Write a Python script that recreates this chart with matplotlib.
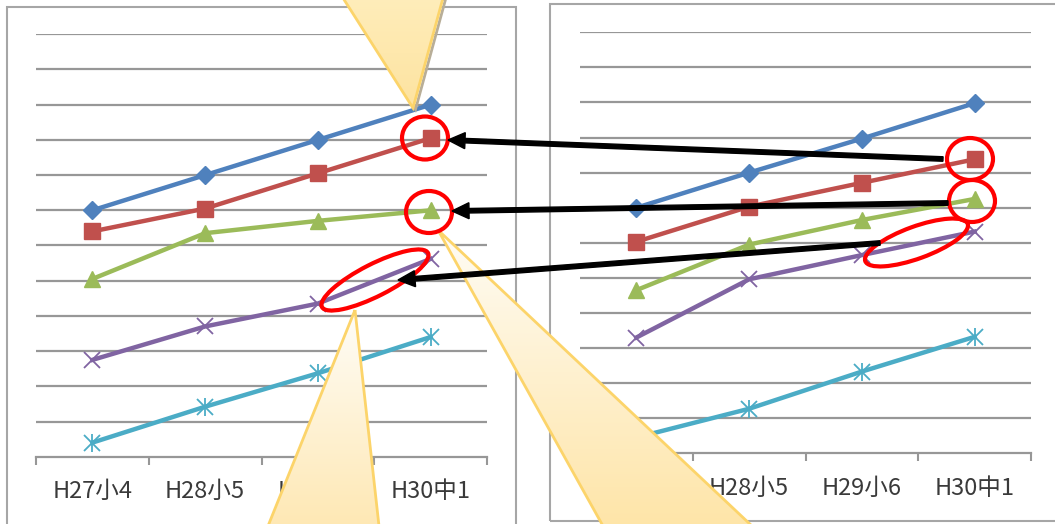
import numpy as np
import matplotlib.pyplot as plt
from matplotlib.patches import Polygon, Ellipse, Rectangle, FancyArrow
from matplotlib.colors import LinearSegmentedColormap

plt.rcParams['font.family'] = ['Noto Sans CJK JP', 'DejaVu Sans']

# grade labels
categories = ['H27小4', 'H28小5', 'H29小6', 'H30中1']

# left chart: five series
left_blue = [7.0, 8.0, 9.0, 10.0]
left_red = [6.4, 7.05, 8.05, 9.05]
left_green = [5.05, 6.35, 6.7, 7.0]
left_purple = [2.75, 3.7, 4.35, 5.62]
left_cyan = [0.4, 1.42, 2.37, 3.4]

# right chart: five series
right_blue = [7.0, 8.0, 8.97, 9.98]
right_red = [6.03, 7.03, 7.71, 8.38]
right_green = [4.65, 5.95, 6.65, 7.25]
right_purple = [3.3, 4.96, 5.65, 6.32]
right_cyan = [0.45, 1.27, 2.33, 3.32]

W, H = 1055, 524
fig = plt.figure(figsize=(W / 100, H / 100), dpi=100)

colors = ['#4F81BD', '#C0504D', '#9BBB59', '#8064A2', '#4BACC6']


def px_axes(x0, x1, ybot, ytop):
    return fig.add_axes([x0 / W, (H - ybot) / H, (x1 - x0) / W, (ybot - ytop) / H])


def draw_chart(ax, series):
    xs = np.arange(1, 5)
    ax.set_xlim(0.5, 4.5)
    ax.set_ylim(0, 12)
    for y in range(1, 13):
        ax.axhline(y, color='#979797', lw=1.6, zorder=1)
    blue, red, green, purple, cyan = series
    lw = 3.2
    ax.plot(xs, blue, color=colors[0], lw=lw, marker='D', ms=9, zorder=3)
    ax.plot(xs, red, color=colors[1], lw=lw, marker='s', ms=11, zorder=3)
    ax.plot(xs, green, color=colors[2], lw=lw, marker='^', ms=11, zorder=3)
    ax.plot(xs, purple, color=colors[3], lw=lw, marker='x', ms=11, mew=1.3, zorder=3)
    ax.plot(xs, cyan, color=colors[4], lw=lw, marker='x', ms=11, mew=1.3, zorder=3)
    ax.plot(xs, cyan, ls='none', color=colors[4], marker='|', ms=13, mew=1.3, zorder=3)
    for s in ['left', 'right', 'top']:
        ax.spines[s].set_visible(False)
    ax.spines['bottom'].set_color('#979797')
    ax.spines['bottom'].set_linewidth(1.6)
    ax.set_yticks([])
    ax.set_xticks(xs)
    ax.set_xticklabels(categories, fontsize=17, color='#3A3A3A')
    ax.tick_params(axis='x', which='major', length=0, pad=17)
    ax.set_xticks([0.5, 1.5, 2.5, 3.5, 4.5], minor=True)
    ax.tick_params(axis='x', which='minor', length=5.5, width=1.5, color='#979797')
    ax.patch.set_alpha(0)


ax_left = px_axes(36, 487, 456.7, 34.3)
draw_chart(ax_left, [left_blue, left_red, left_green, left_purple, left_cyan])

ax_right = px_axes(580, 1031, 453.3, 32.3)
draw_chart(ax_right, [right_blue, right_red, right_green, right_purple, right_cyan])

# chart frames
fig.patches.append(Rectangle((7 / W, -0.05), (516 - 7) / W, 1.05 - 7 / H,
                             transform=fig.transFigure, fill=False,
                             ec='#A6A6A6', lw=1.5, zorder=0))
fig.patches.append(Rectangle((550 / W, (H - 521) / H), 0.5, (521 - 4) / H,
                             transform=fig.transFigure, fill=False,
                             ec='#A6A6A6', lw=1.5, zorder=0))

# annotation layer in pixel coordinates
ov = fig.add_axes([0, 0, 1, 1], zorder=10)
ov.set_xlim(0, W)
ov.set_ylim(H, 0)
ov.axis('off')
ov.patch.set_alpha(0)


def wedge(pts, c_top, c_bot, shadow=False):
    pts = np.array(pts, dtype=float)
    if shadow:
        sh = Polygon(pts + [2.5, 1.5], closed=True, fc='none', ec='#B8AE98', lw=2, zorder=1)
        ov.add_patch(sh)
    poly = Polygon(pts, closed=True, fc='none', ec='#FCD46A', lw=2, zorder=3)
    ov.add_patch(poly)
    cmap = LinearSegmentedColormap.from_list('g', [c_top, c_bot])
    y0, y1 = pts[:, 1].min(), pts[:, 1].max()
    x0, x1 = pts[:, 0].min(), pts[:, 0].max()
    grad = np.linspace(0, 1, 256).reshape(-1, 1)
    im = ov.imshow(grad, cmap=cmap, extent=(x0, x1, y1, y0), aspect='auto',
                   origin='upper', zorder=2, interpolation='bilinear')
    clip = Polygon(pts, closed=True, transform=ov.transData)
    im.set_clip_path(clip)


wedge([(343, -2), (443, -2), (413, 108)], '#FFEDBA', '#FDE3A0', shadow=True)
wedge([(355, 310), (268, 526), (379, 526)], '#FFFDF8', '#FEE8B4')
wedge([(438, 230), (603, 526), (752, 526)], '#FFFCF5', '#FEE5A8')
ov.set_xlim(0, W)
ov.set_ylim(H, 0)

# highlight rings
ring = dict(fill=False, ec='#FF0000', lw=3, zorder=5)
ov.add_patch(Ellipse((425, 138), 46, 43, **ring))
ov.add_patch(Ellipse((429, 212), 46, 42, **ring))
ov.add_patch(Ellipse((375, 280), 119, 32, angle=-27, **ring))
ov.add_patch(Ellipse((970, 159), 46, 42, **ring))
ov.add_patch(Ellipse((972, 201), 46, 42, **ring))
ov.add_patch(Ellipse((916.5, 242.5), 109, 32, angle=-20, **ring))

# arrows between the two charts
for (sx, sy), (tx, ty) in [((943, 159), (448, 140)),
                           ((948, 203), (452, 211)),
                           ((880, 243), (398, 280))]:
    ov.add_patch(FancyArrow(sx, sy, tx - sx, ty - sy, width=4.5, head_width=16,
                            head_length=17, length_includes_head=True,
                            color='black', zorder=6))

fig.savefig('out.png', dpi=100)
